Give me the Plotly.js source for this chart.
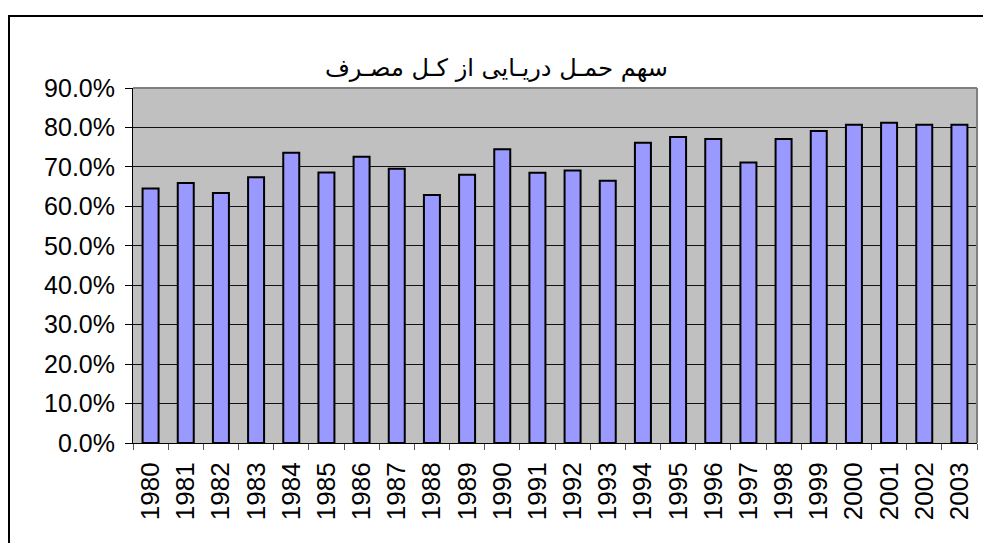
<!DOCTYPE html>
<html>
<head>
<meta charset="utf-8">
<script src="https://cdn.plot.ly/plotly-3.0.1.min.js"></script>
<style>
  html, body { margin: 0; padding: 0; background: #ffffff; overflow: hidden; }
  #wrap { position: relative; width: 983px; height: 543px; }
  #chart { width: 983px; height: 543px; }
  #frame { position: absolute; left: 8px; top: 15px; width: 1000px; height: 600px;
           border: 2px solid #000; box-sizing: border-box; pointer-events: none; }
</style>
</head>
<body>
<div id="wrap">
  <div id="chart"></div>
  <div id="frame"></div>
</div>
<script>
const years = ['1980','1981','1982','1983','1984','1985','1986','1987','1988','1989','1990','1991',
               '1992','1993','1994','1995','1996','1997','1998','1999','2000','2001','2002','2003'];
const share = [0.645, 0.659, 0.634, 0.674, 0.736, 0.686, 0.726, 0.695, 0.629, 0.680, 0.745, 0.685,
               0.691, 0.665, 0.761, 0.776, 0.771, 0.711, 0.771, 0.791, 0.807, 0.812, 0.807, 0.807];
const yTicks = [0, 0.1, 0.2, 0.3, 0.4, 0.5, 0.6, 0.7, 0.8, 0.9];
const titleText = 'سهم حمـل دریـایی از کـل مصـرف';

const trace = {
  type: 'bar',
  x: years,
  y: share,
  marker: { color: '#9999FF', line: { color: '#000000', width: 2 } },
  hoverinfo: 'x+y'
};

const layout = {
  width: 983, height: 543,
  margin: { l: 133, r: 6, t: 88, b: 100, pad: 0 },
  paper_bgcolor: '#ffffff',
  plot_bgcolor: '#C0C0C0',
  showlegend: false,
  bargap: 0.545,
  title: {
    text: titleText,
    font: { family: 'DejaVu Sans', size: 24, color: '#000' },
    xref: 'container', x: 0.505, xanchor: 'center',
    yref: 'container', y: 0.875, yanchor: 'middle'
  },
  xaxis: {
    type: 'category',
    tickangle: -90,
    tickfont: { family: 'Liberation Sans, Arial', size: 26, color: '#000' },
    ticks: 'outside', ticklen: 6, tickcolor: '#555', tickwidth: 1,
    tickson: 'boundaries',
    ticklabelstandoff: 8,
    showline: true, linecolor: '#000', linewidth: 1,
    showgrid: false, zeroline: false
  },
  yaxis: {
    range: [0, 0.9],
    tickvals: yTicks,
    tickformat: '.1%',
    tickfont: { family: 'Liberation Sans, Arial', size: 25, color: '#000' },
    ticks: 'outside', ticklen: 7, tickcolor: '#000', tickwidth: 1,
    ticklabelstandoff: 5,
    showline: true, linecolor: '#000', linewidth: 1,
    showgrid: true, gridcolor: '#111', gridwidth: 1,
    zeroline: false
  },
  shapes: [
    { type: 'line', xref: 'paper', yref: 'paper', x0: 0, x1: 1, y0: 1, y1: 1,
      line: { color: '#808080', width: 2 }, layer: 'above' },
    { type: 'line', xref: 'paper', yref: 'paper', x0: 1, x1: 1, y0: 0, y1: 1,
      line: { color: '#808080', width: 2 }, layer: 'above' }
  ]
};

Plotly.newPlot('chart', [trace], layout, { displayModeBar: false, staticPlot: true });
</script>
</body>
</html>
